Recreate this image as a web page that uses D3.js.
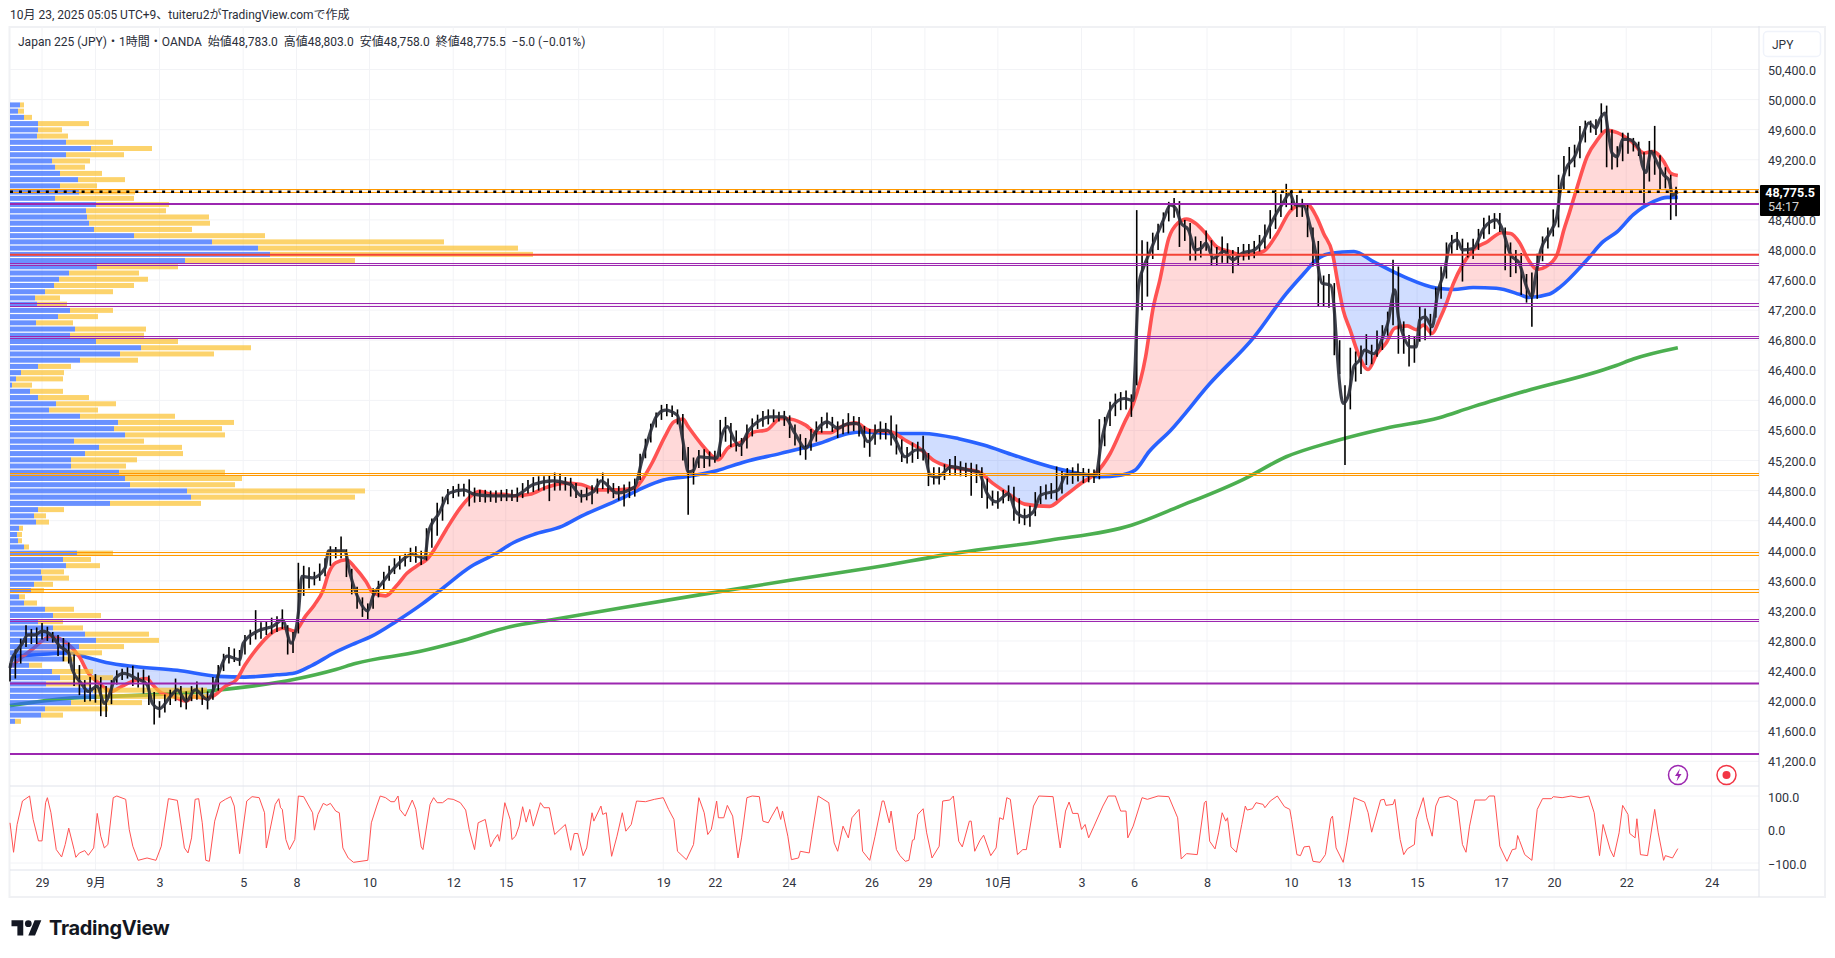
<!DOCTYPE html>
<html><head><meta charset="utf-8">
<script src="https://cdnjs.cloudflare.com/ajax/libs/d3/7.8.5/d3.min.js"></script>
<style>html,body{margin:0;background:#fff;overflow:hidden}svg{display:block}text{font-family:Roboto,"Noto Sans CJK JP",sans-serif}</style>
</head><body><svg id="c" width="1835" height="958"></svg>
<script>
const titleText="10月 23, 2025 05:05 UTC+9、tuiteru2がTradingView.comで作成";
const legendText="Japan 225 (JPY)・1時間・OANDA  始値48,783.0  高値48,803.0  安値48,758.0  終値48,775.5  −5.0 (−0.01%)";
const priceTicks=[41200,41600,42000,42400,42800,43200,43600,44000,44400,44800,45200,45600,46000,46400,46800,47200,47600,48000,48400,48800,49200,49600,50000,50400];
const oscTicks=[-100,0,100];
const timeTickBars=[18,48,84,131,161,202,249,278.5,319.5,367,396,437.5,484,514,555,602,631.5,672.5,719.7,749.5,790.5,837.6,867.5,908,956];
const timeTickLabels=["29","9月","3","5","8","10","12","15","17","19","22","24","26","29","10月","3","6","8","10","13","15","17","20","22","24"];
const lastPrice=48775.5, lastCountdown="54:17";

const closeKnots=[[0,42440],[1,42550],[3,42640],[7,42770],[10,42880],[14,42880],[18,42930],[23,42880],[28,42730],[33,42640],[35,42420],[40,42240],[44,42130],[49,42200],[53,41970],[56,42100],[59,42300],[64,42370],[71,42300],[77,42220],[80,41970],[84,41900],[90,42060],[94,42150],[99,42000],[104,42150],[111,42020],[115,42200],[118,42420],[122,42600],[129,42550],[131,42770],[139,42930],[148,43000],[153,43080],[158,42770],[162,43170],[164,43660],[170,43640],[177,43770],[179,44000],[188,44000],[191,43700],[196,43350],[201,43200],[204,43400],[209,43570],[217,43800],[226,43950],[233,43900],[235,44240],[241,44500],[247,44770],[255,44810],[261,44750],[271,44730],[283,44730],[294,44880],[305,44930],[315,44880],[321,44730],[328,44790],[332,44930],[341,44770],[351,44850],[355,45200],[359,45520],[363,45780],[368,45870],[375,45800],[378,45470],[381,45050],[384,45070],[387,45250],[391,45240],[397,45230],[400,45540],[403,45650],[407,45470],[410,45400],[415,45600],[420,45715],[427,45780],[435,45780],[441,45560],[447,45360],[452,45560],[459,45715],[465,45630],[471,45690],[476,45690],[482,45450],[488,45600],[493,45600],[497,45490],[503,45250],[509,45340],[513,45340],[517,45000],[521,44980],[529,45120],[539,45070],[544,45050],[549,44760],[554,44650],[561,44760],[565,44520],[570,44450],[575,44520],[579,44740],[589,44810],[593,45000],[599,45030],[610,45000],[613,45430],[619,45910],[626,46025],[631,46000],[632,46400],[634,47510],[637,47780],[640,47950],[644,48180],[648,48400],[652,48600],[655,48550],[658,48355],[662,48270],[666,48000],[669,48020],[672,48090],[676,47890],[682,47980],[687,47870],[692,47955],[699,48000],[704,48130],[709,48380],[715,48620],[719,48750],[722,48600],[727,48580],[730,48355],[734,47910],[737,47560],[742,47530],[744,47200],[745,46850],[747,46220],[749,45960],[752,46070],[755,46450],[758,46530],[761,46670],[766,46620],[772,46890],[774,47020],[778,47470],[780,47110],[783,46850],[787,46710],[790,46710],[792,47070],[795,47110],[799,46980],[802,47420],[806,47730],[809,48070],[813,48130],[816,48000],[822,48020],[828,48290],[835,48400],[838,48300],[843,47940],[848,47820],[852,47510],[855,47380],[857,47640],[860,48000],[865,48220],[869,48440],[871,48800],[874,49070],[879,49240],[883,49490],[887,49690],[891,49620],[893,49730],[896,49820],[898,49550],[900,49290],[903,49240],[906,49470],[909,49470],[915,49350],[917,49130],[919,49030],[922,49310],[925,49180],[929,49000],[932,48930],[934,48730],[937,48775]];

const redKnots=[[1,42460],[4,42530],[12,42680],[23,42860],[32,42770],[39,42590],[44,42370],[50,42240],[57,42130],[63,42200],[71,42280],[77,42300],[80,42220],[85,42110],[92,42060],[99,42000],[103,42060],[110,42040],[115,42080],[121,42200],[127,42280],[132,42480],[138,42680],[150,42950],[154,42970],[160,42930],[166,43130],[171,43280],[176,43480],[179,43700],[183,43840],[189,43880],[194,43770],[200,43590],[204,43440],[211,43400],[217,43530],[223,43700],[230,43820],[234,43880],[239,44040],[245,44280],[253,44570],[259,44730],[264,44790],[271,44750],[277,44750],[283,44730],[292,44750],[301,44840],[312,44900],[321,44880],[330,44810],[341,44810],[351,44830],[355,44940],[361,45180],[368,45520],[373,45715],[378,45750],[381,45650],[389,45400],[394,45270],[398,45210],[403,45360],[411,45450],[418,45580],[425,45605],[433,45760],[439,45750],[447,45670],[453,45570],[461,45570],[467,45650],[475,45700],[483,45600],[495,45580],[503,45470],[511,45360],[519,45200],[529,45110],[544,45050],[552,44900],[562,44740],[570,44620],[584,44590],[592,44720],[602,44900],[610,45030],[618,45290],[626,45700],[631,45950],[638,46580],[642,47200],[646,47600],[651,48155],[656,48355],[661,48410],[666,48355],[671,48240],[678,48040],[685,47980],[693,47930],[704,47980],[712,48220],[719,48510],[725,48600],[729,48600],[734,48440],[738,48220],[743,47955],[746,47560],[749,47200],[753,46930],[757,46650],[763,46410],[768,46620],[773,46760],[778,46960],[785,46990],[790,46940],[794,47000],[799,46890],[803,47070],[807,47290],[811,47560],[816,47800],[822,48000],[830,48110],[838,48230],[843,48220],[848,48100],[853,47870],[858,47740],[863,47780],[869,47930],[873,48270],[876,48490],[880,48800],[886,49240],[892,49470],[897,49590],[903,49560],[911,49440],[918,49290],[923,49310],[929,49180],[933,49020],[937,48990]];

const blueKnots=[[1,42595],[17,42620],[32,42640],[45,42570],[54,42515],[70,42460],[94,42410],[117,42330],[132,42320],[150,42350],[160,42375],[170,42480],[182,42640],[194,42770],[203,42860],[217,43060],[232,43300],[243,43500],[259,43790],[272,43950],[283,44110],[294,44215],[310,44325],[321,44460],[343,44690],[355,44830],[367,44940],[380,44985],[397,45065],[413,45185],[433,45295],[455,45430],[471,45560],[479,45580],[495,45560],[513,45560],[533,45490],[547,45405],[564,45270],[584,45120],[600,45030],[612,44985],[624,45005],[632,45070],[640,45320],[652,45600],[674,46220],[699,46845],[717,47420],[727,47690],[734,47870],[742,47955],[755,47980],[766,47845],[783,47645],[802,47490],[811,47475],[822,47500],[835,47490],[848,47410],[853,47370],[865,47415],[871,47510],[886,47870],[895,48110],[903,48245],[912,48470],[923,48640],[931,48700],[937,48700]];

const greenKnots=[[0,41940],[34,42040],[54,42060],[114,42140],[160,42290],[183,42420],[194,42500],[230,42660],[252,42790],[281,42990],[306,43090],[343,43240],[389,43420],[439,43610],[483,43770],[533,43975],[584,44140],[630,44340],[657,44590],[693,44950],[717,45250],[743,45450],[773,45630],[803,45770],[820,45900],[848,46100],[902,46460],[912,46550],[937,46700]];

const wickStep=3;
const wickHigh=[
42500,42690,42830,43010,42960,42980,43040,42990,42920,42880,
42840,42780,42620,42480,42280,42320,42360,42320,42200,42280,
42410,42430,42450,42470,42380,42420,42340,42120,42000,42090,
42150,42300,42200,42130,42200,42260,42180,42130,42320,42480,
42630,42720,42700,42680,42880,42950,43210,43050,43060,43110,
43130,43220,43010,42920,43840,43800,43780,43720,43830,43900,
44060,44050,44190,44020,43760,43520,43380,43300,43500,43600,
43720,43800,43900,43930,43960,44040,44060,44000,44300,44430,
44640,44720,44820,44860,44890,44890,44950,44840,44810,44810,
44800,44800,44810,44820,44810,44840,44900,44940,44980,44990,
44990,45000,45040,45020,44980,44970,44900,44810,44840,44870,
44960,45040,44960,44900,44860,44880,44920,44960,45290,45490,
45690,45840,45940,45950,45930,45880,45820,45380,45240,45340,
45350,45320,45330,45740,45780,45700,45600,45500,45680,45760,
45810,45860,45880,45880,45850,45860,45800,45680,45550,45500,
45620,45720,45780,45840,45780,45720,45750,45830,45790,45780,
45660,45620,45680,45720,45700,45800,45680,45480,45380,45440,
45450,45530,45300,45110,45110,45150,45220,45260,45190,45170,
45170,45150,45110,44960,44800,44790,44810,44870,44850,44700,
44560,44600,44780,44860,44880,44900,45120,45060,45100,45110,
45160,45100,45090,45080,45750,45780,45980,46090,46110,46130,
46080,48530,48130,48110,48230,48350,48500,48640,48690,48650,
48400,48360,48180,48120,48260,48130,48040,48180,48090,48000,
48040,48080,48080,48120,48200,48340,48530,48810,48740,48880,
48810,48730,48680,48600,48300,48120,47660,47680,47560,46800,
46200,46700,46650,46730,46880,46740,46930,47000,47180,47870,
47780,47050,46870,46850,47250,47220,47150,47500,47780,48100,
48200,48240,48150,48100,48150,48280,48430,48460,48490,48490,
48300,48100,48000,47960,47680,47700,47950,48180,48300,48540,
49000,49250,49370,49400,49650,49720,49720,49740,49950,49920,
49600,49380,49560,49560,49490,49440,49300,49450,49650,49260,
49100,49000,48840];
const wickLow=[
42260,42300,42500,42720,42760,42760,42820,42800,42780,42600,
42530,42500,42200,42080,41990,42000,41980,41800,41790,41960,
42220,42280,42300,42200,42180,42100,41950,41690,41780,41850,
41950,42000,41920,41890,42000,42020,41950,41890,42020,42140,
42400,42500,42520,42470,42620,42750,42820,42830,42880,42890,
42920,42960,42620,42640,42900,43400,43500,43540,43600,43660,
43800,43900,43900,43650,43420,43230,43120,43080,43230,43380,
43480,43600,43690,43750,43790,43850,43840,43810,43870,44040,
44200,44400,44620,44700,44720,44720,44590,44640,44650,44640,
44650,44640,44660,44660,44660,44650,44700,44760,44780,44800,
44800,44660,44800,44800,44800,44720,44700,44640,44670,44620,
44760,44820,44760,44700,44670,44590,44700,44720,44940,45230,
45440,45640,45740,45790,45780,45680,45200,44480,44880,45100,
45100,45120,45170,45250,45450,45380,45320,45260,45360,45520,
45620,45650,45680,45710,45720,45660,45500,45400,45270,45210,
45330,45450,45570,45630,45580,45500,45550,45560,45590,45520,
45370,45250,45410,45480,45480,45400,45280,45180,45160,45170,
45220,45200,44860,44880,44880,44940,45000,45010,44990,44980,
44730,44900,44700,44560,44600,44560,44630,44660,44400,44360,
44340,44320,44460,44620,44680,44690,44670,44760,44880,44890,
44920,44900,44910,44900,44950,45390,45660,45790,45870,45880,
45780,46200,47200,47380,47880,48000,48230,48380,48430,48040,
48120,47860,47860,47900,47990,47790,47790,47830,47820,47690,
47800,47860,47870,47890,47980,48020,48150,48280,48440,48570,
48530,48440,48440,48170,47780,47250,47250,47230,46600,46350,
45140,45880,46250,46350,46470,46480,46580,46670,46860,47000,
46620,46620,46450,46500,46780,46800,46860,47100,47350,47620,
47950,48000,47580,47900,47880,48000,48150,48210,48280,48240,
47730,47640,47690,47400,47300,46980,47350,47850,48020,48180,
48300,48800,48980,49100,49220,49430,49560,49530,49560,49100,
49070,49100,49180,49280,49310,49250,48620,48910,49000,48800,
48820,48400,48450];

const oscKnots=[[0,20],[2,-68],[4,15],[7,85],[11,100],[13,30],[16,-34],[18,-34],[20,80],[21,95],[23,50],[26,-60],[29,-82],[31,-45],[33,4],[36,-60],[37,-83],[39,-70],[42,-63],[44,-77],[47,-55],[49,48],[51,-20],[53,-55],[55,-45],[58,95],[60,100],[65,90],[67,0],[69,-50],[72,-92],[77,-85],[82,-92],[85,-50],[89,92],[94,87],[98,-55],[100,-70],[102,-25],[104,90],[106,92],[108,20],[110,-92],[112,-95],[115,25],[118,80],[121,90],[124,98],[126,70],[129,-72],[133,85],[136,98],[140,95],[143,50],[144,-55],[149,75],[151,92],[152,65],[153,60],[155,-30],[157,-60],[160,-30],[162,100],[165,98],[170,50],[171,-2],[173,45],[176,78],[178,72],[180,78],[183,55],[185,50],[187,-55],[190,-85],[193,-98],[201,-92],[203,20],[206,70],[208,100],[211,95],[214,83],[216,83],[218,100],[219,60],[222,40],[226,88],[228,60],[231,-52],[232,-60],[236,75],[238,95],[240,80],[243,80],[246,92],[249,90],[253,80],[256,58],[258,0],[261,-60],[263,20],[267,30],[270,-52],[272,-30],[274,-15],[275,-35],[278,80],[281,30],[282,-30],[284,-20],[286,10],[288,68],[290,22],[292,60],[294,10],[298,80],[300,65],[303,65],[306,-15],[309,0],[312,15],[315,-62],[317,-12],[319,-12],[322,-78],[324,-55],[327,50],[328,25],[332,70],[333,45],[335,50],[338,-80],[341,-20],[344,50],[346,-5],[349,15],[352,85],[357,83],[362,90],[367,95],[370,60],[373,30],[375,-65],[380,-90],[384,-45],[387,95],[390,50],[392,-15],[394,0],[397,85],[398,35],[401,35],[403,72],[406,40],[409,-85],[411,-25],[414,95],[417,100],[421,98],[423,25],[426,20],[428,40],[431,68],[433,30],[434,55],[437,-20],[439,-90],[443,-85],[444,-65],[449,-70],[451,0],[454,100],[460,80],[463,-40],[465,-65],[468,10],[471,-25],[473,35],[477,60],[479,-65],[483,-92],[486,-20],[490,85],[491,85],[494,20],[495,55],[498,-60],[500,-78],[503,-95],[505,-92],[507,-32],[508,-30],[510,45],[513,62],[515,-10],[518,-85],[522,-50],[524,85],[528,88],[530,100],[533,-35],[535,-52],[539,25],[540,25],[542,-65],[545,-32],[547,-17],[551,-78],[554,-55],[556,35],[558,30],[560,95],[562,90],[566,-75],[569,-60],[571,-60],[575,70],[578,100],[586,98],[588,20],[590,-55],[593,55],[595,82],[597,48],[600,48],[602,0],[604,15],[606,-25],[609,10],[614,70],[617,100],[621,100],[624,55],[627,55],[628,-25],[631,10],[636,95],[639,90],[645,100],[651,98],[656,35],[658,-88],[661,-72],[667,-75],[671,80],[672,85],[674,-35],[677,-58],[679,-10],[681,50],[683,25],[684,35],[686,-52],[689,-68],[692,15],[694,70],[695,58],[698,62],[700,80],[704,75],[705,65],[708,85],[712,100],[716,68],[719,60],[720,30],[723,-75],[725,-78],[727,-52],[730,-50],[732,-95],[736,-98],[739,-75],[742,32],[743,40],[745,-55],[749,-98],[751,-40],[755,95],[761,82],[763,50],[765,-8],[770,88],[772,90],[773,72],[777,75],[778,90],[781,-30],[783,-75],[785,-58],[789,-45],[790,30],[794,95],[796,35],[799,-20],[801,70],[803,95],[808,100],[813,85],[816,-45],[818,-68],[820,10],[823,88],[829,88],[831,100],[834,100],[837,-50],[841,-95],[844,-60],[846,-58],[847,-18],[848,-32],[851,-75],[855,-92],[858,60],[861,92],[866,92],[867,98],[872,95],[877,100],[882,95],[887,100],[890,50],[893,-78],[895,15],[899,-60],[901,-82],[904,-10],[906,72],[909,45],[910,-12],[913,-25],[914,32],[916,-75],[920,-78],[924,60],[926,-10],[929,-92],[930,-78],[934,-85],[937,-57]];

const profileTopPrice=49929, profileStep=82.8;
const profileBuy=[10,8,14,28,28,27,56,81,56,42,45,50,68,50,69,45,86,76,77,79,84,124,202,248,260,175,87,59,49,44,35,25,27,60,48,26,65,60,86,131,110,70,28,11,6,2,20,28,46,39,70,108,104,115,64,89,75,61,61,109,115,120,177,181,100,28,24,26,9,7,8,14,67,53,56,31,32,24,21,9,14,35,43,28,43,75,86,69,57,53,19,42,50,36,83,85,61,35,31,5];
const profileTotal=[14,14,22,79,52,58,103,142,114,80,75,92,115,87,125,124,159,156,199,200,182,255,434,508,523,345,168,129,138,124,103,50,57,103,88,63,136,134,168,241,204,128,61,54,53,22,53,79,106,88,165,224,212,215,134,172,173,127,116,215,232,225,355,345,191,54,36,39,13,12,12,19,103,81,90,54,59,43,34,15,27,64,91,53,73,139,149,114,92,65,32,83,103,81,197,197,132,98,53,11];

const purple="#9c27b0",orange="#ff9800",red="#f44336";
const levelPairs=[[48810,48770,orange],[47823,47796,purple],[47291,47255,purple],[46852,46826,purple],[45030,45004,orange],[43980,43940,orange],[43488,43448,orange],[43089,43062,purple]];
const levelSolid=[[48611,purple],[47937,red],[42233,purple],[41296,purple]];

const L=10,R=1759,T=26,FR=1825,MB=786,OB=870,XB=897;
const svg=d3.select("#c");
const x=d3.scaleLinear().domain([0,982.6]).range([L,R]);
const y=d3.scaleLinear().domain([50400,41200]).range([69.5,761.3]);
const yo=d3.scaleLinear().domain([100,-100]).range([796,863]);
const vp=d3.scaleLinear().domain([0,1000]).range([0,1000]);
const grid="#f2f3f6",sep="#e0e3eb",frame="#f0f1f4";

// frame
svg.append("rect").attr("x",9.5).attr("y",27).attr("width",FR-9.5).attr("height",XB-27).attr("fill","#fff").attr("stroke",frame).attr("stroke-width",2);
// grid
const g=svg.append("g");
g.selectAll(".v").data(timeTickBars).join("line").attr("x1",d=>x(d)).attr("x2",d=>x(d)).attr("y1",T).attr("y2",OB).attr("stroke",grid);
g.selectAll(".h").data(priceTicks).join("line").attr("x1",L).attr("x2",R).attr("y1",d=>y(d)).attr("y2",d=>y(d)).attr("stroke",grid);
g.selectAll(".o").data(oscTicks).join("line").attr("x1",L).attr("x2",R).attr("y1",d=>yo(d)).attr("y2",d=>yo(d)).attr("stroke",grid);
[[L,R,MB,MB],[L,R,OB,OB],[R,R,T,XB]].forEach(a=>svg.append("line").attr("x1",a[0]).attr("x2",a[1]).attr("y1",a[2]).attr("y2",a[3]).attr("stroke",sep));

// fills between red and blue
const bx=d=>x(d[0]),py=d=>y(d[1]);
const defs=svg.append("defs");
defs.append("clipPath").attr("id","aboveBlue").append("path").attr("d",d3.area().x(bx).y0(T).y1(py).curve(d3.curveMonotoneX)(blueKnots));
defs.append("clipPath").attr("id","belowBlue").append("path").attr("d",d3.area().x(bx).y0(MB).y1(py).curve(d3.curveMonotoneX)(blueKnots));
svg.append("path").attr("d",d3.area().x(bx).y0(MB).y1(py).curve(d3.curveMonotoneX)(redKnots)).attr("clip-path","url(#aboveBlue)").attr("fill","rgba(255,82,82,.22)");
svg.append("path").attr("d",d3.area().x(bx).y0(T).y1(py).curve(d3.curveMonotoneX)(redKnots)).attr("clip-path","url(#belowBlue)").attr("fill","rgba(41,98,255,.22)");

const ln=d3.line().x(bx).y(py).curve(d3.curveMonotoneX);
const ma=(k,c)=>svg.append("path").attr("d",ln(k)).attr("fill","none").attr("stroke",c).attr("stroke-width",3.6).attr("stroke-linejoin","round");
ma(greenKnots,"#4caf50");ma(blueKnots,"#2962ff");ma(redKnots,"#ff5252");

// volume profile
const rowY=i=>y(profileTopPrice-i*profileStep);
const vg=svg.append("g");
vg.selectAll(".t").data(profileTotal).join("rect").attr("x",(d,i)=>L+vp(profileBuy[i])).attr("y",(d,i)=>rowY(i)-2.5).attr("width",(d,i)=>vp(d-profileBuy[i])).attr("height",5).attr("fill","rgba(251,192,45,.7)");
vg.selectAll(".b").data(profileBuy).join("rect").attr("x",L).attr("y",(d,i)=>rowY(i)-2.5).attr("width",d=>vp(d)).attr("height",5).attr("fill","rgba(41,98,255,.7)");

// price wicks + close line
svg.append("g").selectAll("line").data(wickHigh).join("line").attr("x1",(d,i)=>x(i*wickStep)).attr("x2",(d,i)=>x(i*wickStep)).attr("y1",d=>y(d)).attr("y2",(d,i)=>y(wickLow[i])).attr("stroke","#000").attr("stroke-width",1.6);
svg.append("path").attr("d",ln(closeKnots)).attr("fill","none").attr("stroke","#2a2e39").attr("stroke-opacity",.9).attr("stroke-width",3.2);

// levels
levelPairs.forEach(p=>{
  svg.append("rect").attr("x",L).attr("width",R-L).attr("y",y(p[0])).attr("height",y(p[1])-y(p[0])).attr("fill",p[2]).attr("opacity",.07);
  [p[0],p[1]].forEach(v=>svg.append("line").attr("x1",L).attr("x2",R).attr("y1",Math.round(y(v))+.5).attr("y2",Math.round(y(v))+.5).attr("stroke",p[2]).attr("stroke-width",1));
});
levelSolid.forEach(p=>svg.append("line").attr("x1",L).attr("x2",R).attr("y1",y(p[0])).attr("y2",y(p[0])).attr("stroke",p[1]).attr("stroke-width",2));
svg.append("line").attr("x1",L).attr("x2",R).attr("y1",y(lastPrice)).attr("y2",y(lastPrice)).attr("stroke","#000").attr("stroke-width",2.5).attr("stroke-dasharray","3 5.95");

// oscillator
svg.append("path").attr("d",d3.line().x(bx).y(d=>yo(d[1]))(oscKnots)).attr("fill","none").attr("stroke","#ff5252").attr("stroke-width",1);

// axes
const fs=12.5,tc="#2f333e";
const ya=svg.append("g").attr("transform",`translate(${R},0.5)`).call(d3.axisRight(y).tickValues(priceTicks).tickFormat(d3.format(",.1f")).tickSize(0).tickPadding(9));
const oa=svg.append("g").attr("transform",`translate(${R},1)`).call(d3.axisRight(yo).tickValues(oscTicks).tickFormat(d=>d3.format(".1f")(d).replace("-","−")).tickSize(0).tickPadding(9));
const xa=svg.append("g").attr("transform",`translate(0,${OB})`).call(d3.axisBottom(x).tickValues(timeTickBars).tickFormat((d,i)=>timeTickLabels[i]).tickSize(0).tickPadding(8));
[ya,oa,xa].forEach(a=>{a.select(".domain").remove();a.selectAll("text").attr("fill",tc).style("font-size",fs+"px").style("font-family",'Roboto,"Noto Sans CJK JP",sans-serif');});

// currency button
svg.append("rect").attr("x",1763.5).attr("y",31.5).attr("width",57).attr("height",25).attr("rx",4).attr("fill","#fff").attr("stroke","#f0f3fa").attr("stroke-width",1.5);
svg.append("text").attr("x",1772).attr("y",48.5).attr("font-size",12).attr("fill",tc).text("JPY");

// last price label
svg.append("rect").attr("x",1760).attr("y",185).attr("width",60).attr("height",31).attr("rx",1).attr("fill","#000");
svg.append("text").attr("x",1815).attr("y",197).attr("text-anchor","end").attr("font-size",12.5).attr("font-weight",700).attr("fill","#fff").text(d3.format(",.1f")(lastPrice));
svg.append("text").attr("x",1768).attr("y",211).attr("font-size",12.5).attr("fill","#d4d4d4").text(lastCountdown);

// titles
svg.append("text").attr("x",10).attr("y",19).attr("font-size",12).attr("fill","#2a2e39").text(titleText);
svg.append("text").attr("x",18).attr("y",46).attr("font-size",12).attr("fill","#2a2e39").attr("xml:space","preserve").style("white-space","pre").text(legendText);

// alert icons
const ic=svg.append("g");
ic.append("circle").attr("cx",1678).attr("cy",775).attr("r",9.5).attr("fill","#fff").attr("stroke",purple).attr("stroke-width",1.5);
ic.append("path").attr("d","M1680 768.5l-5 7.5h3l-1.5 5.5 5-7.5h-3z").attr("fill",purple);
ic.append("circle").attr("cx",1726.5).attr("cy",775).attr("r",9.5).attr("fill","#fff").attr("stroke","#f23645").attr("stroke-width",1.5);
ic.append("circle").attr("cx",1726.5).attr("cy",775).attr("r",4).attr("fill","#f23645");

// logo
const lg=svg.append("g").attr("transform","translate(11.5,917) scale(.84)").attr("fill","#131722");
lg.append("path").attr("d","M14 22H7V11H0V4h14v18zM28 22h-8l7.5-18h8L28 22z");
lg.append("circle").attr("cx",20).attr("cy",8).attr("r",4);
svg.append("text").attr("x",49).attr("y",935).attr("font-size",20).attr("font-weight",700).attr("letter-spacing","-.3").attr("fill","#131722").style("font-family","Inter,Roboto,sans-serif").text("TradingView");
</script></body></html>
